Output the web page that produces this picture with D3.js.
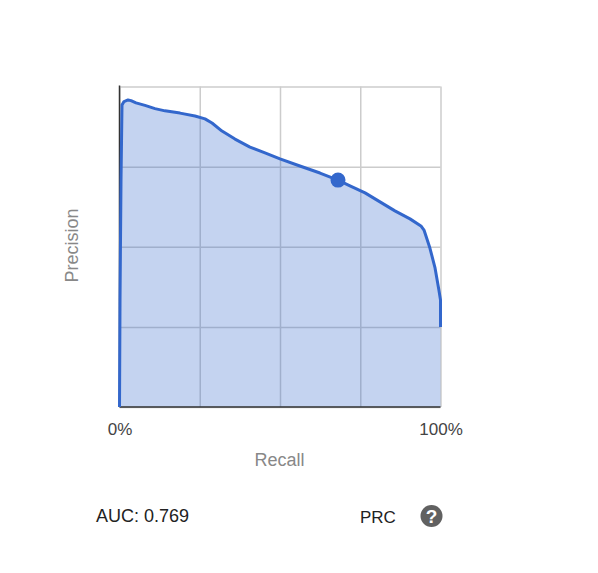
<!DOCTYPE html>
<html>
<head>
<meta charset="utf-8">
<script src="https://cdn.jsdelivr.net/npm/d3@7"></script>
<style>
  body { margin: 0; background: #fff; }
  svg { display: block; font-family: "Liberation Sans", Arial, sans-serif; }
  .tick text { font-family: "Liberation Sans", Arial, sans-serif; }
</style>
</head>
<body>
<svg></svg>
<script>
const recall = [0, 0.16, 0.47, 0.78, 1.4, 2.65, 3.58, 5.14, 7.94, 11.06, 14.17, 18.85, 23.52, 26.64, 28.82, 31.93, 35.98, 40.65, 45.33, 50, 56.2, 62.46, 68.07, 71.8, 76.5, 81.15, 85.8, 90.5, 93.9, 94.86, 96.7, 98.3, 99.5, 100, 100]
const precision = [0, 33.4, 70.8, 94.2, 95.3, 95.8, 95.6, 94.9, 94.1, 93.1, 92.4, 91.7, 90.8, 89.9, 88.6, 86.1, 83.6, 81.1, 79.3, 77.4, 75.2, 73, 70.8, 69, 66.8, 64, 61.2, 58.7, 56.5, 55.2, 49.6, 43.4, 36.5, 33.4, 25]
const gridValues = [0, 25, 50, 75, 100]
const xTickLabels = [0, 100]
const markerPoint = [68.07, 70.8]
const aucText = 'AUC: 0.769'
const curveName = 'PRC'

const graphWidth = 598
const graphHeight = 573
const plotLeft = 119.5
const plotRight = 440.5
const plotTop = 86.5
const plotBottom = 407
const lineColor = '#3367cc'

const svg = d3.select('svg').attr('width', graphWidth).attr('height', graphHeight)

const xScale = d3.scaleLinear().domain([0, 100]).range([plotLeft, plotRight])
const yScale = d3.scaleLinear().domain([0, 100]).range([plotBottom, plotTop])
const data = recall.map((r, i) => [r, precision[i]])

// gridlines
const xGrid = d3.axisBottom(xScale).tickValues(gridValues).tickSize(plotBottom - plotTop).tickFormat('')
svg.append('g')
   .attr('transform', `translate(0, ${plotTop})`)
   .call(xGrid)
   .call(g => g.select('.domain').remove())
   .call(g => g.selectAll('line').attr('stroke', '#ccc').attr('stroke-width', 1.5))

const yGrid = d3.axisLeft(yScale).tickValues(gridValues).tickSize(plotLeft - plotRight).tickFormat('')
svg.append('g')
   .attr('transform', `translate(${plotLeft}, 0)`)
   .call(yGrid)
   .call(g => g.select('.domain').remove())
   .call(g => g.selectAll('line').attr('stroke', '#ccc').attr('stroke-width', 1.5))

// area and curve
const area = d3.area().x(d => xScale(d[0])).y0(plotBottom).y1(d => yScale(d[1]))
svg.append('path')
   .attr('d', area(data))
   .attr('fill', lineColor)
   .attr('fill-opacity', 0.29)

// axis lines
svg.append('line')
   .attr('x1', plotLeft).attr('x2', plotLeft).attr('y1', plotTop - 1).attr('y2', plotBottom)
   .attr('stroke', '#333').attr('stroke-width', 1.5)
svg.append('line')
   .attr('x1', plotLeft).attr('x2', plotRight).attr('y1', plotBottom).attr('y2', plotBottom)
   .attr('stroke', '#333').attr('stroke-width', 1.5)

svg.append('path')
   .attr('d', d3.line().x(d => xScale(d[0])).y(d => yScale(d[1]))(data))
   .attr('fill', 'none')
   .attr('stroke', lineColor)
   .attr('stroke-width', 3)
   .attr('stroke-linejoin', 'round')

svg.append('circle')
   .attr('cx', xScale(markerPoint[0]))
   .attr('cy', yScale(markerPoint[1]))
   .attr('r', 7.5)
   .attr('fill', lineColor)

// tick labels
const xAxis = d3.axisBottom(xScale).tickValues(xTickLabels).tickSize(0).tickFormat(d => d + '%')
svg.append('g')
   .attr('transform', `translate(0, ${plotBottom})`)
   .call(xAxis)
   .call(g => g.select('.domain').remove())
   .call(g => g.selectAll('text')
               .attr('y', 16)
               .style('font-size', '17px')
               .attr('fill', '#444'))

svg.append('text')
   .text('Recall')
   .attr('x', 279.5)
   .attr('y', 466)
   .attr('text-anchor', 'middle')
   .attr('fill', '#888')
   .style('font-size', '18px')

svg.append('text')
   .text('Precision')
   .attr('transform', 'translate(78, 245.5)rotate(-90)')
   .attr('text-anchor', 'middle')
   .attr('fill', '#888')
   .style('font-size', '18px')

svg.append('text')
   .text(aucText)
   .attr('x', 96)
   .attr('y', 522)
   .attr('fill', '#222')
   .style('font-size', '18px')

svg.append('text')
   .text(curveName)
   .attr('x', 360)
   .attr('y', 523)
   .attr('fill', '#222')
   .style('font-size', '17px')

svg.append('circle')
   .attr('cx', 431.5)
   .attr('cy', 516)
   .attr('r', 11)
   .attr('fill', '#616161')

svg.append('text')
   .text('?')
   .attr('x', 431.5)
   .attr('y', 523)
   .attr('text-anchor', 'middle')
   .attr('fill', '#fff')
   .style('font-size', '19px')
   .style('font-weight', 'bold')
</script>
</body>
</html>
